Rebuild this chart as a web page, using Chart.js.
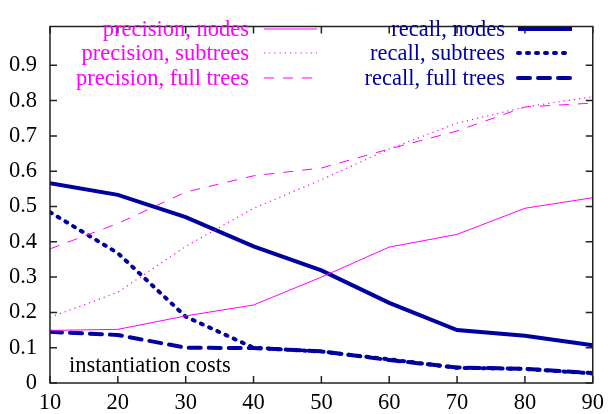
<!DOCTYPE html>
<html lang="en">
<head>
<meta charset="UTF-8">
<title>instantiation costs</title>
<style>
  html, body { margin: 0; padding: 0; background: #fff; }
  #wrap { width: 611px; height: 414px; }
</style>
</head>
<body>
<div id="wrap"><canvas id="myChart" width="611" height="414"></canvas></div>
<script src="https://cdn.jsdelivr.net/npm/chart.js@4.4.0/dist/chart.umd.min.js"></script>
<script>
// data
const costs = [10, 20, 30, 40, 50, 60, 70, 80, 90];
const precisionNodes     = [0.149, 0.152, 0.190, 0.221, 0.300, 0.385, 0.421, 0.495, 0.525];
const precisionSubtrees  = [0.186, 0.257, 0.387, 0.495, 0.576, 0.663, 0.736, 0.782, 0.811];
const precisionFullTrees = [0.380, 0.452, 0.541, 0.587, 0.609, 0.663, 0.714, 0.782, 0.793];
const recallNodes        = [0.566, 0.533, 0.470, 0.387, 0.319, 0.227, 0.150, 0.134, 0.107];
const recallSubtrees     = [0.484, 0.368, 0.188, 0.100, 0.089, 0.067, 0.043, 0.040, 0.027];
const recallFullTrees    = [0.145, 0.136, 0.100, 0.099, 0.090, 0.065, 0.044, 0.040, 0.028];
const xTicks = [10, 20, 30, 40, 50, 60, 70, 80, 90];
const yTicks = [0, 0.1, 0.2, 0.3, 0.4, 0.5, 0.6, 0.7, 0.8, 0.9];

const pink = '#ff00ff';
const navy = '#0000a0';
const FONT = '"Liberation Serif", "DejaVu Serif", serif';
const FSIZE = 22.5;

const pts = arr => arr.map((v, i) => ({ x: costs[i], y: v }));

const series = [
  { label: 'precision, nodes',      data: precisionNodes,     color: pink, width: 1, dash: [] },
  { label: 'precision, subtrees',   data: precisionSubtrees,  color: pink, width: 1.2, dash: [1.2, 4] },
  { label: 'precision, full trees', data: precisionFullTrees, color: pink, width: 1, dash: [10, 9] },
  { label: 'recall, nodes',         data: recallNodes,        color: navy, width: 4, dash: [] },
  { label: 'recall, subtrees',      data: recallSubtrees,     color: navy, width: 4, dash: [2, 7] },
  { label: 'recall, full trees',    data: recallFullTrees,    color: navy, width: 4, dash: [12, 8] }
];

// gnuplot-like frame, inward ticks on all sides, key and label
const framePlugin = {
  id: 'frame',
  afterDraw(chart) {
    const ctx = chart.ctx;
    const a = chart.chartArea;
    const xs = chart.scales.x, ys = chart.scales.y;
    ctx.save();
    ctx.strokeStyle = '#222';
    ctx.lineWidth = 1.5;
    ctx.strokeRect(a.left, a.top, a.right - a.left, a.bottom - a.top);
    ctx.beginPath();
    xTicks.forEach(v => {
      const px = xs.getPixelForValue(v);
      ctx.moveTo(px, a.bottom); ctx.lineTo(px, a.bottom - 7);
      ctx.moveTo(px, a.top); ctx.lineTo(px, a.top + 7);
    });
    yTicks.forEach(v => {
      const py = ys.getPixelForValue(v);
      ctx.moveTo(a.left, py); ctx.lineTo(a.left + 7, py);
      ctx.moveTo(a.right, py); ctx.lineTo(a.right - 7, py);
    });
    ctx.stroke();

    // key
    ctx.font = FSIZE + 'px ' + FONT;
    ctx.textAlign = 'right';
    ctx.textBaseline = 'alphabetic';
    const cols = [{ textX: 249, x0: 264, x1: 317 }, { textX: 505, x0: 518, x1: 572 }];
    const rows = [29, 53, 78];
    series.forEach((s, i) => {
      const c = cols[Math.floor(i / 3)];
      const y = rows[i % 3];
      ctx.fillStyle = s.color;
      ctx.fillText(s.label, c.textX, y + 7);
      ctx.strokeStyle = s.color;
      ctx.lineWidth = s.width;
      ctx.setLineDash(s.dash);
      ctx.lineCap = s.width > 2 && s.dash.length ? 'round' : 'butt';
      ctx.beginPath();
      ctx.moveTo(c.x0, y); ctx.lineTo(c.x1, y);
      ctx.stroke();
    });
    ctx.setLineDash([]);

    ctx.fillStyle = '#000';
    ctx.textAlign = 'left';
    ctx.fillText('instantiation costs', 69, 372);
    ctx.restore();
  }
};

const ctx = document.getElementById('myChart').getContext('2d');
new Chart(ctx, {
  type: 'line',
  data: {
    datasets: series.map(s => ({
      label: s.label,
      data: pts(s.data),
      borderColor: s.color,
      borderWidth: s.width,
      borderDash: s.dash,
      borderCapStyle: s.width > 2 && s.dash.length ? 'round' : 'butt',
      pointRadius: 0,
      tension: 0,
      fill: false
    }))
  },
  options: {
    responsive: false,
    animation: false,
    layout: { padding: { top: 10, right: 17, left: 0, bottom: 0 } },
    plugins: { legend: { display: false }, tooltip: { enabled: false } },
    scales: {
      x: {
        type: 'linear',
        min: 10, max: 90,
        afterBuildTicks: s => { s.ticks = xTicks.map(v => ({ value: v })); },
        afterFit: s => { s.height = 31; },
        grid: { display: false, drawTicks: false },
        border: { display: false },
        ticks: { color: '#000', font: { family: FONT, size: FSIZE }, padding: 7, maxRotation: 0 }
      },
      y: {
        min: 0, max: 1.01,
        afterBuildTicks: s => { s.ticks = yTicks.map(v => ({ value: v })); },
        afterFit: s => { s.width = 50; },
        grid: { display: false, drawTicks: false },
        border: { display: false },
        ticks: { color: '#000', font: { family: FONT, size: FSIZE }, padding: 13,
                 callback: v => v === 0 ? '0' : v.toFixed(1) }
      }
    }
  },
  plugins: [framePlugin]
});
</script>
</body>
</html>
